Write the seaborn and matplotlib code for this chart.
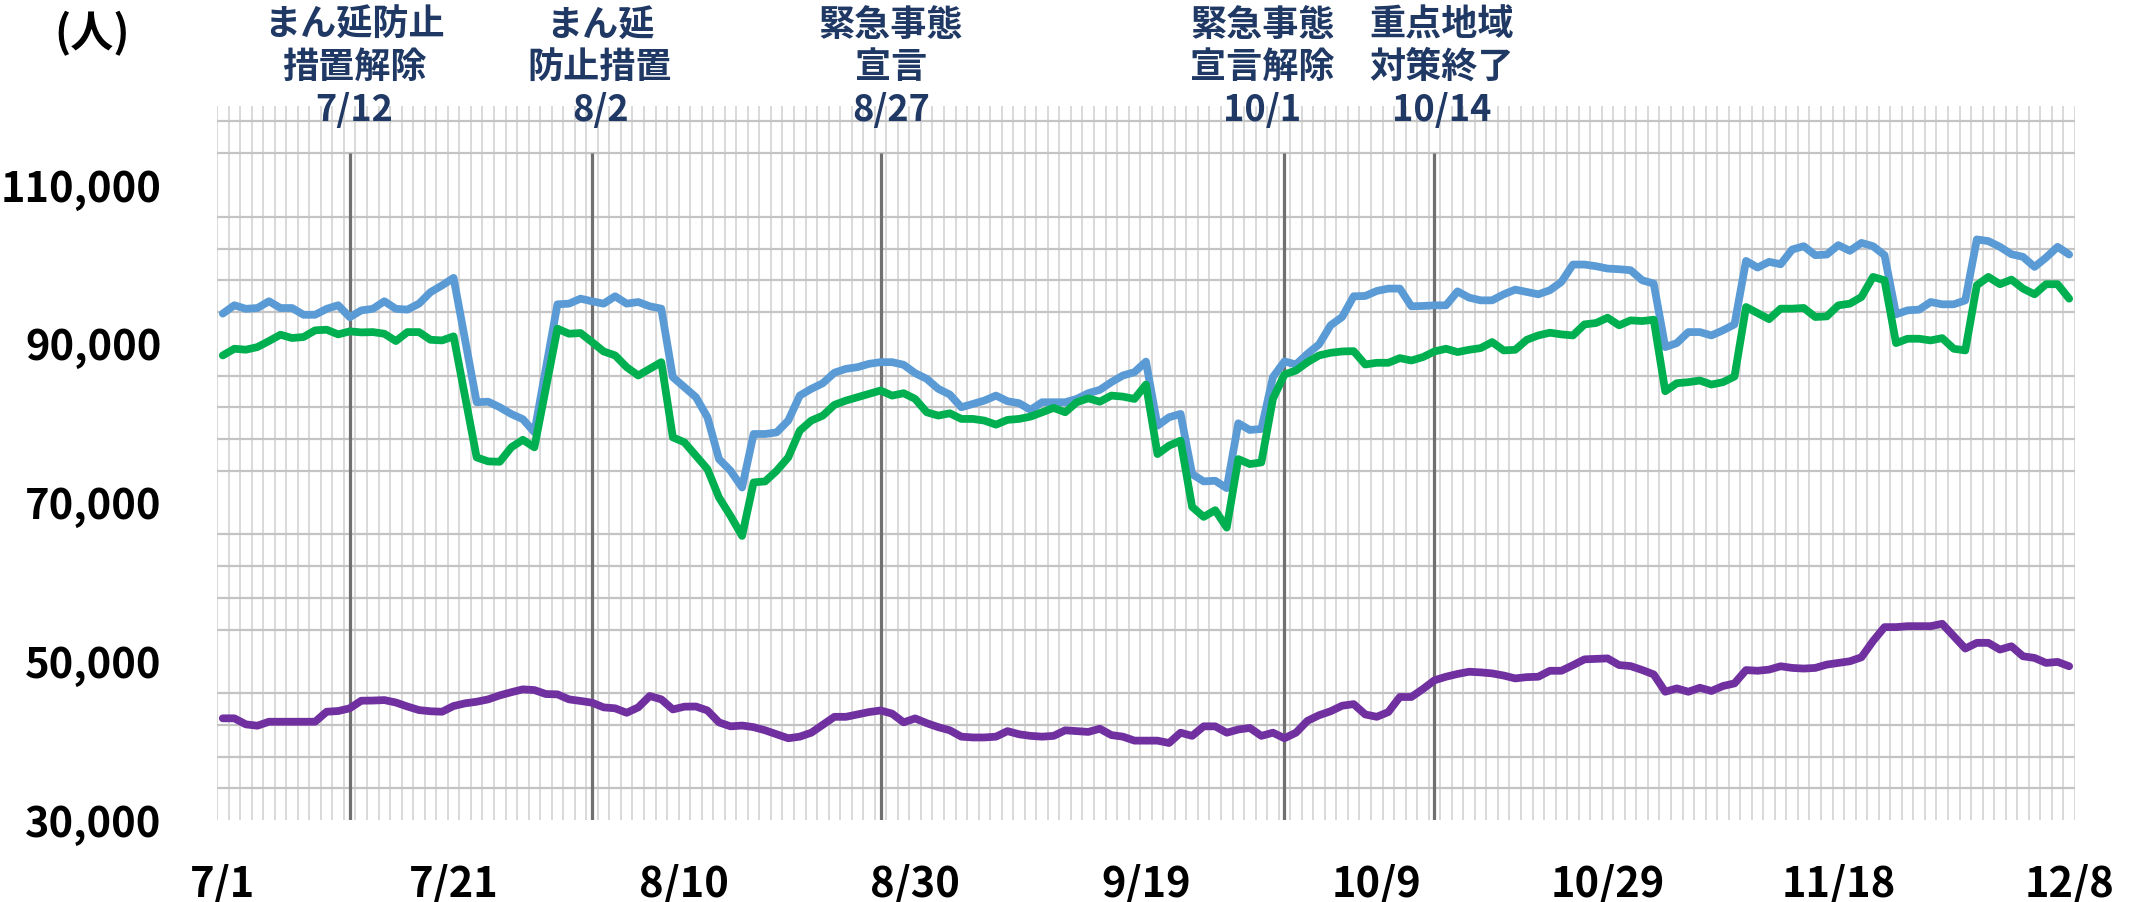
import numpy as np
import pandas as pd
import matplotlib
matplotlib.use('Agg')
import matplotlib.pyplot as plt
import matplotlib.transforms as mtransforms
import seaborn as sns

# 日付（7/1 = 0 日目 〜 12/8 = 160 日目）
days = np.arange(161)
tick_days = [0, 20, 40, 60, 80, 100, 120, 140, 160]
tick_labels = ['7/1', '7/21', '8/10', '8/30', '9/19', '10/9', '10/29', '11/18', '12/8']

# 系列（人）
series_blue = [
    93800, 94850, 94400, 94500, 95350, 94500, 94500, 93650, 93650, 94400,
    94850, 93350, 94200, 94400, 95350, 94400, 94300, 95050, 96500, 97350,
    98300, 90450, 82630, 82700, 82000, 81150, 80500, 78850, 86900, 94970,
    95050, 95680, 95350, 95050, 95980, 95050, 95260, 94720, 94420, 85790,
    84530, 83270, 80740, 75470, 74000, 71890, 78630, 78630, 78840, 80320,
    83470, 84320, 85030, 86350, 86840, 87050, 87470, 87680, 87680, 87350,
    86290, 85580, 84320, 83600, 82000, 82420, 82840, 83470, 82760, 82510,
    81670, 82630, 82630, 82630, 83050, 83770, 84190, 85160, 86000, 86420,
    87750, 79680, 80740, 81160, 73580, 72660, 72740, 71810, 79980, 79140,
    79260, 85790, 87770, 87390, 88740, 89920, 92320, 93370, 95980, 96020,
    96650, 96950, 96950, 94720, 94760, 94840, 94840, 96600, 95810, 95470,
    95470, 96230, 96820, 96530, 96230, 96740, 97790, 99980, 99980, 99770,
    99470, 99390, 99260, 98000, 97580, 89580, 90080, 91470, 91470, 91050,
    91690, 92440, 100440, 99600, 100320, 100020, 101870, 102290, 101160, 101240,
    102420, 101710, 102710, 102290, 101160, 93710, 94210, 94300, 95260, 94970,
    94970, 95470, 103140, 102930, 102210, 101280, 100950, 99680, 100860, 102210,
    101240,
]
series_green = [
    88530, 89370, 89250, 89580, 90340, 91140, 90720, 90850, 91690, 91770,
    91180, 91560, 91430, 91470, 91260, 90340, 91470, 91470, 90500, 90420,
    90930, 83300, 75680, 75180, 75130, 76950, 77900, 76950, 84440, 91900,
    91260, 91350, 90210, 89030, 88530, 87050, 86000, 86840, 87680, 78210,
    77580, 75890, 74210, 70630, 68310, 65790, 72530, 72660, 74000, 75680,
    79050, 80320, 80950, 82300, 82840, 83260, 83680, 84110, 83470, 83770,
    83050, 81370, 80950, 81240, 80530, 80530, 80320, 79810, 80410, 80530,
    80820, 81370, 81920, 81370, 82630, 83130, 82700, 83470, 83340, 83050,
    84860, 76100, 77160, 77790, 69450, 68190, 69030, 66840, 75470, 74840,
    75050, 83050, 86130, 86630, 87680, 88530, 88860, 89030, 89070, 87390,
    87600, 87600, 88190, 87890, 88320, 89030, 89370, 88950, 89240, 89450,
    90210, 89160, 89240, 90500, 91050, 91390, 91180, 91050, 92440, 92610,
    93280, 92320, 92950, 92860, 93030, 84020, 85030, 85160, 85370, 84860,
    85160, 85870, 94630, 93870, 93100, 94420, 94420, 94510, 93370, 93450,
    94840, 95050, 95890, 98420, 98000, 90080, 90630, 90630, 90420, 90710,
    89370, 89160, 97370, 98420, 97500, 98080, 96950, 96230, 97500, 97500,
    95680,
]
series_purple = [
    42810, 42810, 42050, 41880, 42380, 42380, 42380, 42380, 42380, 43640,
    43730, 44070, 45030, 45050, 45110, 44800, 44300, 43850, 43700, 43640,
    44360, 44700, 44900, 45200, 45700, 46100, 46460, 46370, 45870, 45830,
    45200, 45000, 44780, 44190, 44070, 43510, 44190, 45620, 45200, 43930,
    44280, 44300, 43800, 42300, 41800, 41900, 41700, 41300, 40800, 40300,
    40500, 41000, 42000, 43000, 43000, 43300, 43600, 43800, 43400, 42300,
    42800, 42200, 41700, 41300, 40500, 40400, 40400, 40500, 41200, 40800,
    40600, 40500, 40600, 41300, 41200, 41100, 41500, 40700, 40500, 40000,
    40000, 40000, 39700, 41000, 40600, 41800, 41800, 41000, 41400, 41600,
    40600, 41000, 40300, 41000, 42500, 43200, 43700, 44400, 44600, 43300,
    43000, 43600, 45500, 45500, 46500, 47600, 48050, 48400, 48680, 48600,
    48470, 48200, 47840, 48000, 48050, 48800, 48800, 49500, 50240, 50300,
    50360, 49520, 49390, 48900, 48340, 46160, 46580, 46160, 46660, 46250,
    46880, 47210, 48890, 48800, 48950, 49370, 49160, 49080, 49160, 49580,
    49790, 50000, 50500, 52530, 54300, 54300, 54420, 54420, 54420, 54720,
    53160, 51600, 52320, 52320, 51470, 51890, 50630, 50420, 49790, 49920,
    49370,
]

# 出来事（縦線）
event_days = [11, 32, 57, 92, 105]
event_labels = [
    'まん延防止\n措置解除\n7/12',
    'まん延\n防止措置\n8/2',
    '緊急事態\n宣言\n8/27',
    '緊急事態\n宣言解除\n10/1',
    '重点地域\n対策終了\n10/14',
]
# ラベルの横ずれ（日）
label_shift = [0.4, 0.7, 0.9, -1.9, 0.6]

df = pd.DataFrame({
    'day': np.tile(days, 3),
    'value': series_blue + series_green + series_purple,
    'series': ['blue'] * 161 + ['green'] * 161 + ['purple'] * 161,
})
palette = {'blue': '#5B9BD5', 'green': '#00B050', 'purple': '#7030A0'}

sns.set_theme(style='white')
plt.rcParams['font.family'] = ['Noto Sans CJK JP', 'DejaVu Sans']
plt.rcParams['axes.unicode_minus'] = False

fig = plt.figure(figsize=(21.36, 9.02), dpi=100)
ax = fig.add_axes([0.1016, 0.0909, 0.8698, 0.792])

sns.lineplot(data=df, x='day', y='value', hue='series', palette=palette,
             linewidth=5.6, legend=False, ax=ax, zorder=3)

ax.vlines(event_days, 30000, 114000, colors='#707070', linewidth=2.3, zorder=2)

ax.set_xlim(-0.5, 160.5)
ax.set_ylim(30000, 120000)

ax.set_xticks(tick_days)
ax.set_xticklabels(tick_labels)
ax.set_xticks(np.arange(-0.5, 161, 1), minor=True)
ax.set_yticks(np.arange(30000, 110001, 20000))
ax.set_yticklabels([f'{v:,}' for v in range(30000, 110001, 20000)])
ax.set_yticks(np.arange(30000, 119000, 4000), minor=True)

ax.grid(False)
ax.grid(which='minor', axis='x', color='#D9D9D9', linewidth=1.4, zorder=0)
ax.grid(which='minor', axis='y', color='#C4C4C4', linewidth=1.6, zorder=0)
ax.set_axisbelow(True)

ax.tick_params(axis='both', which='both', length=0)
ax.tick_params(axis='y', which='major', pad=40, labelsize=30, labelcolor='black')
ax.tick_params(axis='x', which='major', pad=31, labelsize=30, labelcolor='black')
for lab in ax.get_xticklabels() + ax.get_yticklabels():
    lab.set_fontweight('bold')

for s in ax.spines.values():
    s.set_visible(False)
ax.set_xlabel('')
ax.set_ylabel('')

# 縦線の上のラベル
trans = mtransforms.blended_transform_factory(ax.transData, fig.transFigure)
line_y = [0.972, 0.925, 0.877]
for d, lab, sh in zip(event_days, event_labels, label_shift):
    for yy, part in zip(line_y, lab.split('\n')):
        ax.text(d + sh, yy, part, transform=trans, ha='center', va='center',
                fontsize=26, fontweight='bold', color='#1F3864', clip_on=False)

fig.text(0.043, 0.963, '(人)', ha='center', va='center', fontsize=31,
         fontweight='bold', color='black')

fig.savefig('out.png', dpi=100)
